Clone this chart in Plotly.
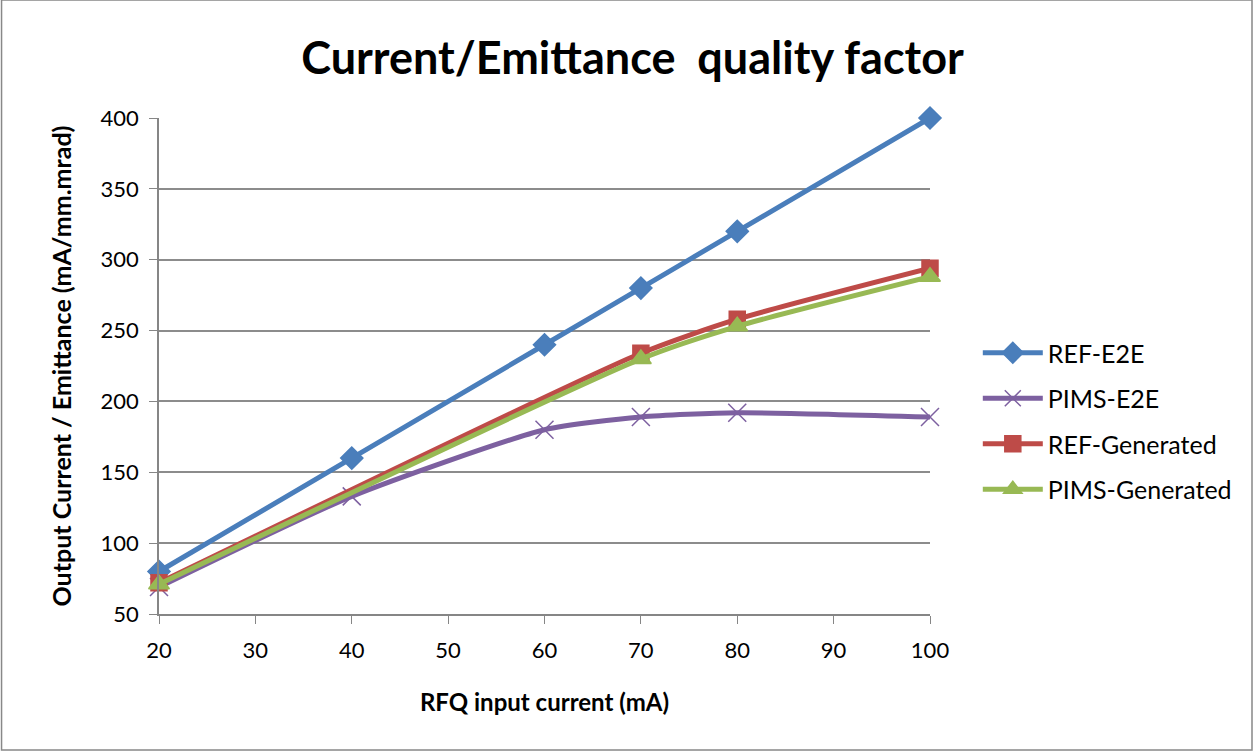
import plotly.graph_objects as go

x_e2e = [20, 40, 60, 70, 80, 100]
ref_e2e = [80, 160, 240, 280, 320, 400]
pims_e2e = [69, 133, 180, 189, 192, 189]
x_gen = [20, 70, 80, 100]
ref_gen = [72, 234, 258, 294]
pims_gen = [71, 230, 253, 288]

FONT = "Lato"
fig = go.Figure()
series = [
    ("REF-E2E", x_e2e, ref_e2e, "#4A7EBB", "diamond", 17),
    ("PIMS-E2E", x_e2e, pims_e2e, "#7D60A0", "x-thin", 18),
    ("REF-Generated", x_gen, ref_gen, "#BE4B48", "square", 16),
    ("PIMS-Generated", x_gen, pims_gen, "#98B954", "triangle-up", 18),
]
for i, (name, xs, ys, col, sym, sz) in enumerate(series):
    fig.add_trace(go.Scatter(
        x=xs, y=ys, name=name, mode="lines+markers",
        line=dict(color=col, width=5, shape="spline", smoothing=0.6),
        marker=dict(symbol=sym, size=sz, color=col,
                    line=dict(color=col, width=1.5)),
        legendgroup=f"g{i}", cliponaxis=False,
    ))

fig.update_layout(
    width=1255, height=753,
    margin=dict(l=159, r=325, t=118, b=139),
    paper_bgcolor="white", plot_bgcolor="white",
    font=dict(family=FONT, size=22, color="black"),
    title=dict(text="<b>Current/Emittance  quality factor</b>", x=0.504, xanchor="center",
               xref="container",
               y=0.923, yanchor="middle", font=dict(size=45, family=FONT)),
    xaxis=dict(range=[20, 100], dtick=10, tick0=20, showgrid=False, showline=True,
               linecolor="#868686", linewidth=1.5, ticks="outside", ticklen=8,
               tickcolor="#868686", tickfont=dict(size=22), zeroline=False,
               ticklabelstandoff=8,
               title=dict(text="<b>RFQ input current (mA)</b>", font=dict(size=24), standoff=32)),
    yaxis=dict(range=[50, 400], dtick=50, tick0=50, showgrid=True, gridcolor="#8C8C8C",
               gridwidth=1.5, showline=True, linecolor="#868686", linewidth=1.5,
               ticks="outside", ticklen=8, tickcolor="#868686", tickfont=dict(size=22),
               zeroline=False, ticklabelstandoff=6,
               title=dict(text="<b>Output Current / Emittance (mA/mm.mrad)</b>",
                          font=dict(size=25), standoff=22)),
    legend=dict(x=1.062, y=0.389, xanchor="left", yanchor="middle",
                font=dict(size=25), tracegroupgap=10, bgcolor="rgba(0,0,0,0)",
                itemwidth=60),
    showlegend=True,
)
fig.add_shape(type="rect", xref="paper", yref="paper",
              x0=-159/771 + 0.002, x1=(1252-159)/771, y0=-(750-614)/496, y1=(118+0)/496 + 1,
              line=dict(color="#888888", width=1.5), fillcolor="rgba(0,0,0,0)", layer="below")
fig.write_html("out.html")
